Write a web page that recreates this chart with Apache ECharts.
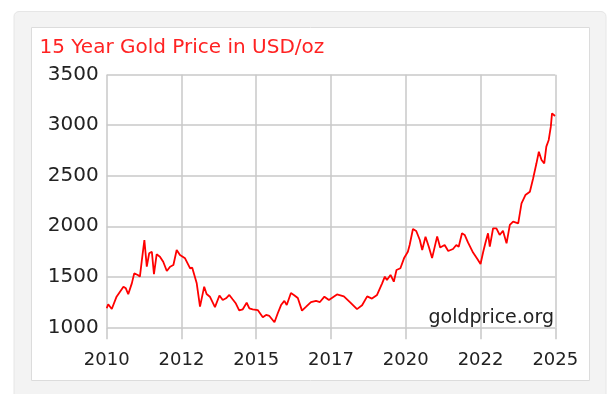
<!DOCTYPE html>
<html>
<head>
<meta charset="utf-8">
<script src="https://cdn.jsdelivr.net/npm/echarts@6/dist/echarts.min.js"></script>
<style>
html,body{margin:0;padding:0;background:#fff;}
#chart{width:612px;height:394px;}
</style>
</head>
<body>
<div id="chart"></div>
<script>
// Decimal year of each sample
const years = [
2010.00,2010.05,2010.17,2010.33,2010.56,2010.64,2010.72,2010.84,2010.92,2011.04,
2011.11,2011.17,2011.26,2011.34,2011.42,2011.51,2011.58,2011.67,2011.78,2011.89,
2012.01,2012.12,2012.23,2012.34,2012.45,2012.62,2012.79,2012.86,2013.01,2013.12,
2013.26,2013.34,2013.45,2013.62,2013.77,2013.88,2013.99,2014.10,2014.21,2014.32,
2014.43,2014.55,2014.68,2014.77,2014.88,2015.05,2015.22,2015.33,2015.44,2015.61,
2015.72,2015.83,2015.94,2016.02,2016.16,2016.27,2016.39,2016.53,2016.67,2016.83,
2017.00,2017.13,2017.28,2017.43,2017.70,2017.93,2018.15,2018.37,2018.54,2018.71,
2018.87,2019.04,2019.21,2019.30,2019.37,2019.49,2019.60,2019.69,2019.82,2019.95,
2020.07,2020.13,2020.24,2020.35,2020.47,2020.55,2020.66,2020.77,2020.88,2021.05,
2021.15,2021.30,2021.42,2021.58,2021.69,2021.77,2021.88,2021.97,2022.08,2022.25,
2022.40,2022.50,2022.59,2022.66,2022.75,2022.81,2022.92,2023.03,2023.14,2023.25,
2023.37,2023.48,2023.59,2023.76,2023.87,2024.00,2024.15,2024.26,2024.37,2024.45,
2024.54,2024.63,2024.70,2024.78,2024.85,2024.89,2024.94,2024.99
];
// Gold price, USD/oz
const prices = [
1188,1228,1181,1303,1402,1386,1327,1435,1534,1518,
1501,1649,1864,1600,1732,1748,1525,1722,1699,1649,
1557,1600,1617,1765,1716,1683,1584,1590,1435,1205,
1402,1330,1303,1200,1315,1270,1287,1320,1277,1235,
1168,1178,1243,1188,1178,1171,1100,1122,1112,1050,
1139,1220,1262,1221,1340,1318,1290,1165,1204,1250,
1262,1250,1303,1270,1325,1306,1245,1180,1218,1306,
1284,1320,1435,1501,1468,1518,1451,1567,1584,1689,
1748,1814,1973,1953,1864,1765,1897,1798,1685,1900,
1790,1814,1755,1775,1815,1798,1930,1914,1840,1740,
1673,1626,1748,1831,1930,1798,1980,1980,1914,1956,
1831,2013,2046,2029,2227,2309,2342,2475,2623,2738,
2656,2623,2788,2854,2986,3118,3124,3091
];
const titleText = '15 Year Gold Price in USD/oz';
const watermark = 'goldprice.org';
const xMin = 2010, xMax = 2025, xStep = 2.5;
const yMin = 1000, yMax = 3500, yStep = 500;

const seriesData = years.map((y, i) => [y, prices[i]]);
const FONT = 'DejaVu Sans';

const chart = echarts.init(document.getElementById('chart'), null, {renderer: 'canvas'});
chart.setOption({
  animation: false,
  backgroundColor: '#ffffff',
  title: {
    text: titleText,
    left: 39.5, top: 37.5, padding: 0,
    textStyle: {color: '#ff2222', fontFamily: FONT, fontSize: 20, fontWeight: 'normal'}
  },
  graphic: [
    {type: 'rect', z: -20, silent: true,
     shape: {x: 14, y: 11.5, width: 592, height: 420, r: 5},
     style: {fill: '#f3f3f3', stroke: '#e6e6e6', lineWidth: 1}},
    {type: 'rect', z: -10, silent: true,
     shape: {x: 31.5, y: 27.5, width: 558, height: 353},
     style: {fill: '#ffffff', stroke: '#dcdcdc', lineWidth: 1}},
    {type: 'text', z: 10, silent: true,
     style: {text: watermark, x: 554, y: 318, textAlign: 'right', textVerticalAlign: 'middle',
             fill: '#222222', font: '19px "DejaVu Sans"'}}
  ],
  grid: {left: 106.7, right: 56.7, top: 74.7, bottom: 66.7, containLabel: false},
  xAxis: {
    type: 'value', min: xMin, max: xMax, interval: xStep,
    axisLine: {show: false},
    axisTick: {show: true, length: 12, lineStyle: {color: '#c8c8c8', width: 1.5}},
    splitLine: {show: true, lineStyle: {color: '#c8c8c8', width: 1.5}},
    axisLabel: {
      show: true, margin: 24, color: '#222', fontFamily: FONT, fontSize: 18,
      showMinLabel: true, showMaxLabel: true,
      formatter: v => String(Math.floor(v + 1e-6))
    }
  },
  yAxis: {
    type: 'value', min: yMin, max: yMax, interval: yStep,
    axisLine: {show: false},
    axisTick: {show: false},
    splitLine: {show: true, lineStyle: {color: '#c8c8c8', width: 1.5}},
    axisLabel: {margin: 8, color: '#222', fontFamily: FONT, fontSize: 20,
      formatter: v => String(Math.round(v))}
  },
  series: [{
    type: 'line', data: seriesData, showSymbol: false, symbol: 'none',
    lineStyle: {color: '#ff0000', width: 1.8}, z: 5
  }]
});
</script>
</body>
</html>
